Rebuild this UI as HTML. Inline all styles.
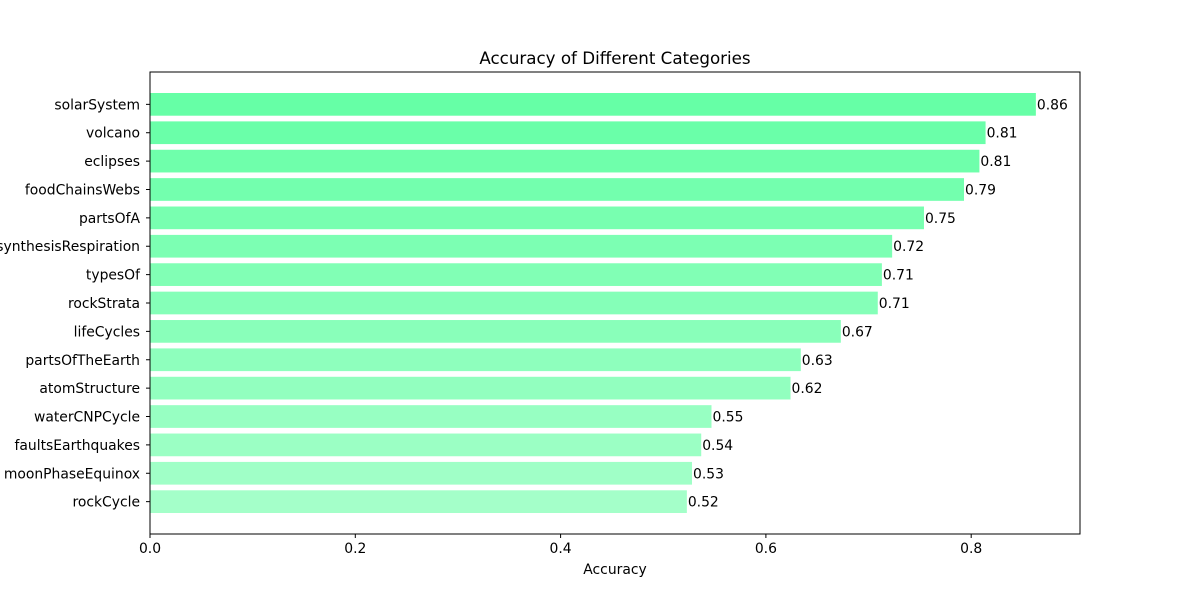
<!DOCTYPE html>
<html><head><meta charset="utf-8"><style>
body{margin:0;background:#fff;font-family:"DejaVu Sans","Liberation Sans",sans-serif;}
</style></head><body>
<svg id="chart" width="1200" height="600" xmlns="http://www.w3.org/2000/svg" font-family="DejaVu Sans, Liberation Sans, sans-serif">
<rect width="1200" height="600" fill="#fff"/>
<text x="615" y="64" text-anchor="middle" font-size="16.7">Accuracy of Different Categories</text>
<g id="bars"></g>
<g id="axes"></g>
<text x="615" y="574" text-anchor="middle" font-size="13.9">Accuracy</text>
</svg>
<script>
const categories=["solarSystem","volcano","eclipses","foodChainsWebs","partsOfA","photosynthesisRespiration","typesOf","rockStrata","lifeCycles","partsOfTheEarth","atomStructure","waterCNPCycle","faultsEarthquakes","moonPhaseEquinox","rockCycle"];
const values=[0.863,0.814,0.808,0.793,0.754,0.723,0.713,0.709,0.673,0.634,0.624,0.547,0.537,0.528,0.523];
const xTicks=[0,0.2,0.4,0.6,0.8];
const xTickLabels=["0.0","0.2","0.4","0.6","0.8"];
const L=150,R=1080,T=72,B=534,xMax=0.906;
const n=categories.length;
const yMin=-0.4-0.05*(n-0.2),yMax=n-0.6+0.05*(n-0.2);
const xs=v=>L+v/xMax*(R-L);
const ys=i=>T+(i-yMin)/(yMax-yMin)*(B-T);
const unit=(B-T)/(yMax-yMin);
const NS="http://www.w3.org/2000/svg";
const bars=document.getElementById('bars'),axes=document.getElementById('axes');
function mk(tag,attrs,parent){const e=document.createElementNS(NS,tag);for(const k in attrs)e.setAttribute(k,attrs[k]);parent.appendChild(e);return e;}
values.forEach((v,i)=>{
  const t=i/(n-1);
  const r=Math.round(0x66+t*(0xa4-0x66)),g=255,b=Math.round(0xa6+t*(0xc9-0xa6));
  const cy=ys(i),h=0.8*unit;
  const rect=mk('rect',{x:L,y:cy-h/2,width:xs(v)-L,height:h,fill:`rgb(${r},${g},${b})`},bars);
  
  
  const lab=mk('text',{x:xs(v)+1,y:cy+5,'font-size':13.9},bars);
  lab.textContent=v.toFixed(2);
  
  
  const tk=mk('line',{x1:L-4,x2:L,y1:cy,y2:cy,stroke:'#000'},axes);
  
  
  const yl=mk('text',{x:L-10,y:cy+5,'font-size':13.9,'text-anchor':'end'},axes);
  yl.textContent=categories[i];
  
  
});
xTicks.forEach((v,i)=>{
  const x=xs(v);
  const tk=mk('line',{x1:x,x2:x,y1:B,y2:B+4,stroke:'#000'},axes);
  
  
  const tl=mk('text',{x:x,y:B+19,'font-size':13.9,'text-anchor':'middle'},axes);
  tl.textContent=xTickLabels[i];
  
  
});
const frame=mk('rect',{x:L,y:T,width:R-L,height:B-T,fill:'none',stroke:'#000','stroke-width':1},axes);


</script>
</body></html>
